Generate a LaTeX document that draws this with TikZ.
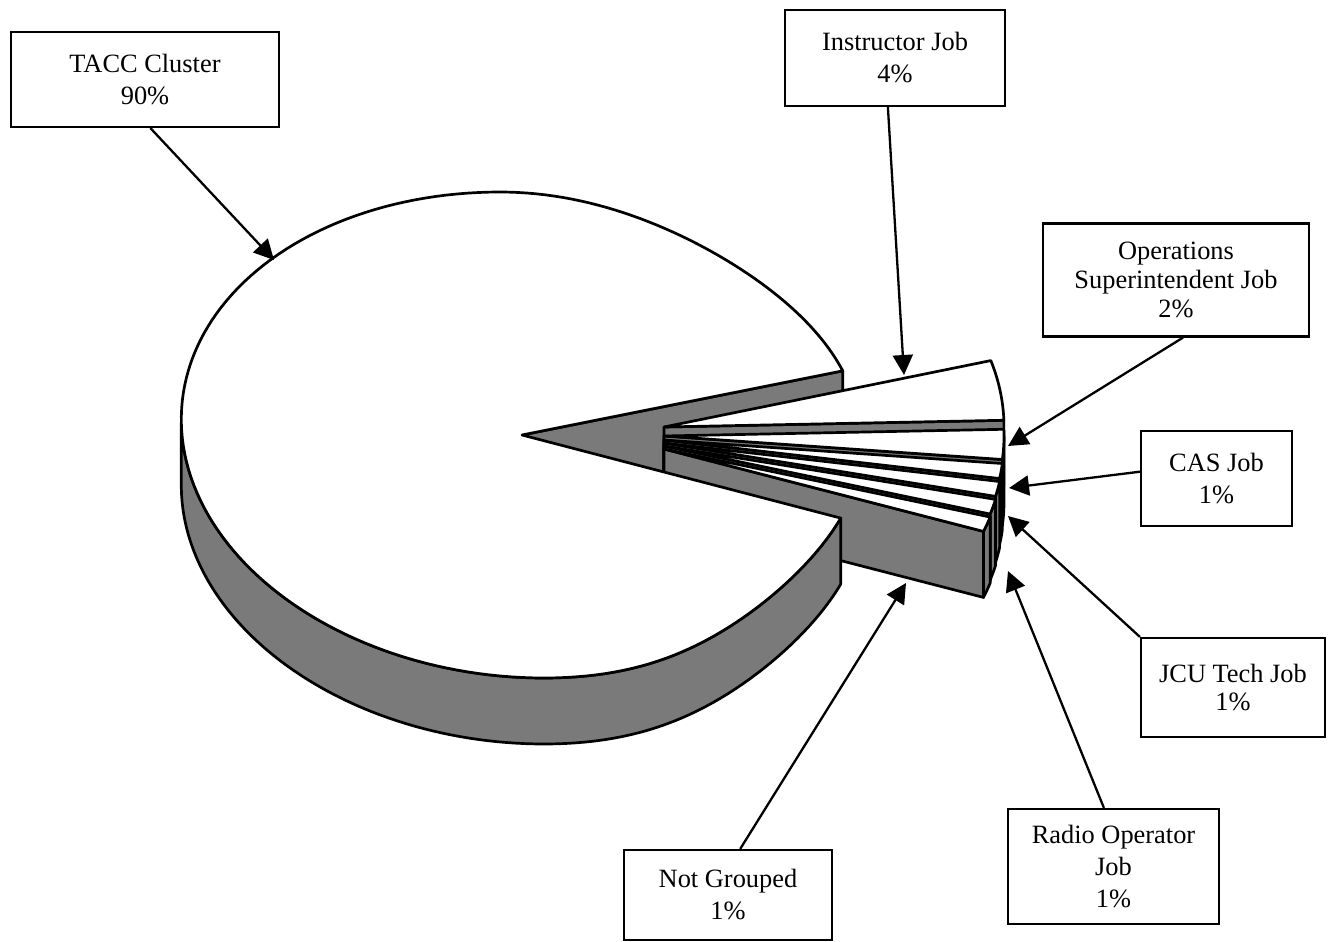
\documentclass[tikz,border=0pt]{standalone}
\usepackage{fontspec}
\setmainfont{Liberation Serif}
\usetikzlibrary{arrows.meta,calc}
\newcommand\pieRX{340}
\newcommand\pieRY{241}
\newcommand\pieH{66}
% big pie outline (sheared ellipse)
\newcommand\bpX[1]{522+340*cos(#1)-22*sin(#1)}
\newcommand\bpY[1]{435-243*sin(#1)}
% exploded slice without visible outer side: cx cy hi lo
\newcommand\expslice[4]{%
  \filldraw[face] ({#1},{#2}) -- ({#1+\pieRX*cos(#4)},{#2-\pieRY*sin(#4)}) -- ++(0,\pieH) -- ({#1},{#2+\pieH}) -- cycle;
  \filldraw[topface] ({#1},{#2}) -- plot[domain=#3:#4,samples=25] ({#1+\pieRX*cos(\x)},{#2-\pieRY*sin(\x)}) -- cycle;
}
% exploded slice with outer side: cx cy hi lo sidehi
\newcommand\expsliceS[5]{%
  \filldraw[face] ({#1},{#2}) -- ({#1+\pieRX*cos(#4)},{#2-\pieRY*sin(#4)}) -- ++(0,\pieH) -- ({#1},{#2+\pieH}) -- cycle;
  \filldraw[face] plot[domain=#5:#4,samples=12] ({#1+\pieRX*cos(\x)},{#2-\pieRY*sin(\x)}) -- plot[domain=#4:#5,samples=12] ({#1+\pieRX*cos(\x)},{#2-\pieRY*sin(\x)+\pieH}) -- cycle;
  \filldraw[topface] ({#1},{#2}) -- plot[domain=#3:#4,samples=25] ({#1+\pieRX*cos(\x)},{#2-\pieRY*sin(\x)}) -- cycle;
}
\begin{document}
\begin{tikzpicture}[x=0.5pt,y=-0.5pt,
  face/.style={fill=black!52, draw=black, line width=1.35pt, line join=round},
  topface/.style={fill=white, draw=black, line width=1.35pt, line join=round},
  lbl/.style={draw=black, line width=1.1pt, fill=white, align=center, inner sep=0pt,
              font=\fontsize{13.2}{16}\selectfont},
  conn/.style={line width=1.15pt, -{Triangle[length=10pt,width=10pt]}},
]
\useasboundingbox (0,0) rectangle (1333,942);

\coordinate (c1) at (522,435);
\coordinate (p16) at ({\bpX{16}},{\bpY{16}+10*sin(32)*sin(32)});
\coordinate (p340) at ({\bpX{340}-20*sin(140)*sin(140)},{\bpY{340}});

% big pie: visible cut face at the upper edge of the gap
\filldraw[face] (c1) -- (p16) -- ++(0,\pieH) -- ($(c1)+(0,\pieH)$) -- cycle;

% exploded slices, back to front
\expslice{664}{427}{16}{1.6}
\expsliceS{664}{436}{1.6}{-5.6}{0}
\expsliceS{664}{440}{-5.6}{-9.2}{-5.6}
\expsliceS{664}{443}{-9.2}{-12.8}{-9.2}
\expsliceS{664}{446}{-12.8}{-16.4}{-12.8}
\expsliceS{664}{449}{-16.4}{-20}{-16.4}

% big pie side
\filldraw[face]
  plot[domain=177:270,samples=60] ({\bpX{\x}},{\bpY{\x}})
  -- plot[domain=270:340,samples=40] ({\bpX{\x}-20*sin(2*\x-540)*sin(2*\x-540)},{\bpY{\x}})
  -- ++(0,\pieH)
  -- plot[domain=340:270,samples=40] ({\bpX{\x}-20*sin(2*\x-540)*sin(2*\x-540)},{\bpY{\x}+\pieH})
  -- plot[domain=270:177,samples=60] ({\bpX{\x}},{\bpY{\x}+\pieH})
  -- cycle;
% big pie top
\filldraw[topface] (c1) -- (p16)
  -- plot[domain=16:90,samples=50] ({\bpX{\x}},{\bpY{\x}+10*sin(2*\x)*sin(2*\x)})
  -- plot[domain=90:270,samples=100] ({\bpX{\x}},{\bpY{\x}})
  -- plot[domain=270:340,samples=40] ({\bpX{\x}-20*sin(2*\x-540)*sin(2*\x-540)},{\bpY{\x}})
  -- cycle;

% label boxes
\node[lbl, minimum width=134pt, minimum height=47.5pt] (tacc)  at (145,79.5)   {TACC Cluster\\90\%};
\node[lbl, minimum width=110pt, minimum height=48pt]   (instr) at (895,58)     {Instructor Job\\4\%};
\node[lbl, minimum width=133pt, minimum height=56.5pt, font=\fontsize{13.2}{14.5}\selectfont] (ops) at (1176,280) {Operations\\Superintendent Job\\2\%};
\node[lbl, minimum width=75.5pt, minimum height=47.5pt] (cas)  at (1216.5,478.5) {CAS Job\\1\%};
\node[lbl, minimum width=92pt, minimum height=49.5pt, font=\fontsize{13.2}{14}\selectfont] (jcu) at (1233,687.5) {JCU Tech Job\\1\%};
\node[lbl, minimum width=105.5pt, minimum height=57.5pt] (radio) at (1113.5,866.5) {Radio Operator\\Job\\1\%};
\node[lbl, minimum width=104pt, minimum height=45pt]  (ng)    at (728,895)     {Not Grouped\\1\%};

% arrow targets
\coordinate (tA) at (274,260);
\coordinate (tB) at (904,375);
\coordinate (tC) at (1008,446);
\coordinate (tD) at (1009,488);
\coordinate (tE) at (1008,516);
\coordinate (tF) at (1008,571);
\coordinate (tG) at (906,583);

\draw[conn] ($(tacc.south west)!0.52!(tacc.south east)$) -- (tA);
\draw[conn] ($(instr.south west)!0.468!(instr.south east)$) -- (tB);
\draw[conn] ($(ops.south west)!0.526!(ops.south east)$) -- (tC);
\draw[conn] ($(cas.north west)!0.43!(cas.south west)$) -- (tD);
\draw[conn] (jcu.north west) -- (tE);
\draw[conn] ($(radio.north west)!0.455!(radio.north east)$) -- (tF);
\draw[conn] ($(ng.north west)!0.558!(ng.north east)$) -- (tG);
\end{tikzpicture}
\end{document}
